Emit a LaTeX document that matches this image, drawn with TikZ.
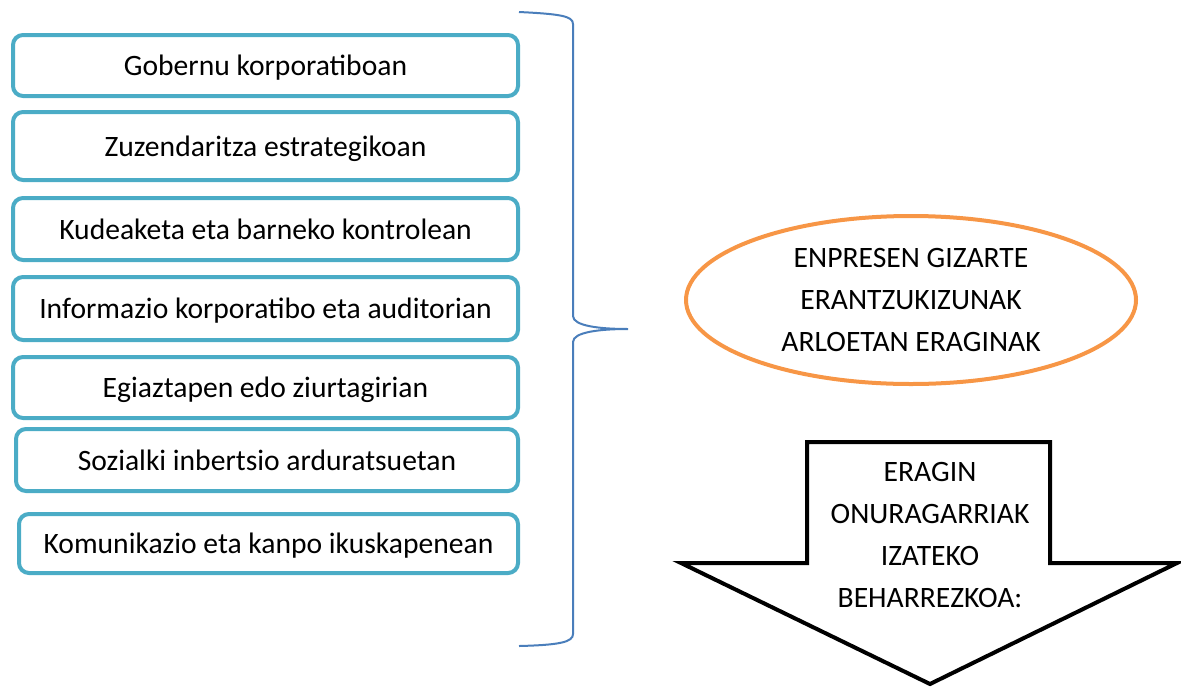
\documentclass[tikz,border=0pt]{standalone}
\usepackage{fontspec}
\setmainfont{Carlito}
\usetikzlibrary{shapes.geometric}

\definecolor{arloteal}{HTML}{4BACC6}
\definecolor{elipsorange}{HTML}{F79646}
\definecolor{giltzablue}{HTML}{4A7EBB}

\begin{document}
\begin{tikzpicture} [x=0.5pt, y=-0.5pt,
        every node/.style = {font=\fontsize{14.8}{21}\selectfont, align=center, inner sep=0pt},
        arloa/.style = {draw=arloteal, line width=2pt, rounded corners=5pt, minimum width=252.5pt, text depth=0pt},
        erdia/.style = {ellipse, draw=elipsorange, line width=2pt, minimum width=225pt, minimum height=84pt},
        giltza/.style = {draw=giltzablue, line width=1pt},
        pijla/.style = {draw=black, line width=2pt, line join=miter}]
        \useasboundingbox (0,0) rectangle (1181,686);

        \node (gob) [arloa, minimum height=30.5pt] at (265.5,65.5) {Gobernu korporatiboan};
        \node (zuz) [arloa, minimum height=34pt] at (265.5,146) {Zuzendaritza estrategikoan};
        \node (kud) [arloa, minimum height=31pt] at (265.5,229) {Kudeaketa eta barneko kontrolean};
        \node (inf) [arloa, minimum height=31.5pt] at (265.5,308.5) {Informazio korporatibo eta auditorian};
        \node (egi) [arloa, minimum height=30.5pt] at (265.5,387.5) {Egiaztapen edo ziurtagirian};
        \node (soz) [arloa, minimum height=31pt, minimum width=251pt] at (267,460) {Sozialki inbertsio arduratsuetan};
        \node (kom) [arloa, minimum height=29.5pt, minimum width=249.5pt] at (268.5,543.5) {Komunikazio eta kanpo ikuskapenean};

        % giltza
        \coordinate (gtop) at (519,12);
        \coordinate (gbot) at (519,646);
        \coordinate (gtip) at (628,329);
        \draw [giltza] (gtop) .. controls (560,14) and (573,16) .. (573,24) -- (573,316)
            .. controls (573,326) and (600,329) .. (gtip)
            .. controls (600,329) and (573,332) .. (573,342) -- (573,634)
            .. controls (573,642) and (560,645) .. (gbot);

        \node (enp) [erdia] at (911,300) {ENPRESEN GIZARTE\\ERANTZUKIZUNAK\\ARLOETAN ERAGINAK};

        % gezia
        \draw [pijla] (807,442) -- (1050,442) -- (1050,563) -- (1177,563) -- (930,684)
            -- (681,563) -- (807,563) -- cycle;
        \node (era) at (930,535) {ERAGIN\\ONURAGARRIAK\\IZATEKO\\BEHARREZKOA:};
    \end{tikzpicture}
\end{document}
